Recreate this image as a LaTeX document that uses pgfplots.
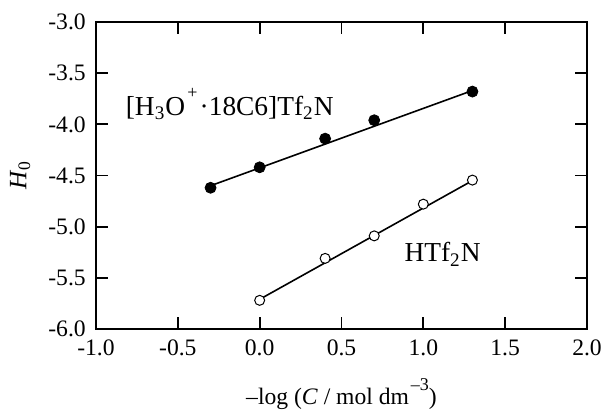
\documentclass[border=0pt]{standalone}
\usepackage{fontspec}
\setmainfont{Liberation Serif}
\usepackage{pgfplots}
\pgfplotsset{compat=1.18}

\newcommand{\hisup}[1]{\hspace{0.08em}\raisebox{0.62em}[0pt][0pt]{\fontsize{9pt}{9pt}\selectfont #1}}

\begin{document}
\fontsize{11.8pt}{14pt}\selectfont
\begin{tikzpicture}
\begin{axis}[
  name=ax,
  scale only axis,
  width=245.5pt, height=153.5pt,
  xmin=-1, xmax=2, ymin=-6, ymax=-3,
  xtick={-1,-0.5,0,0.5,1,1.5,2},
  ytick={-6,-5.5,-5,-4.5,-4,-3.5,-3},
  tick align=inside,
  major tick length=6pt,
  axis line style={line width=0.9pt},
  every tick/.style={black, line width=0.9pt},
  tick label style={font=\fontsize{11.8pt}{14pt}\selectfont},
  /pgf/number format/assume math mode=true,
  /pgf/number format/fixed,
  /pgf/number format/fixed zerofill,
  /pgf/number format/precision=1,
  xticklabel style={yshift=-1.5pt},
  yticklabel style={xshift=-1pt},
  xlabel={\textendash log (\textit{C} / mol dm\hisup{\textendash3})},
  ylabel={\textit{H}\textsubscript{0}},
  xlabel style={font=\fontsize{11.8pt}{14pt}\selectfont, yshift=-8pt},
  ylabel style={font=\fontsize{12.5pt}{14pt}\selectfont, yshift=1pt},
  clip=false,
]
% [H3O+.18C6]Tf2N
\addplot[black, line width=0.8pt] coordinates {(-0.3,-4.60) (1.3,-3.67)};
\addplot[only marks, mark=*, mark size=2.75pt, black] coordinates {
  (-0.3,-4.62) (0,-4.42) (0.4,-4.14) (0.7,-3.96) (1.3,-3.68)
};
% HTf2N
\addplot[black, line width=0.8pt] coordinates {(0,-5.71) (1.3,-4.55)};
\addplot[only marks, mark=*, mark size=2.5pt,
  mark options={fill=white, draw=black, line width=0.5pt}] coordinates {
  (0,-5.72) (0.4,-5.31) (0.7,-5.09) (1.0,-4.78) (1.3,-4.545)
};
\node[anchor=base west, inner sep=0pt, font=\fontsize{13.7pt}{16pt}\selectfont]
  at (axis cs:-0.82,-3.91)
  {[H\textsubscript{3}O\hisup{+}\hspace{0.08em}·18C6]Tf\textsubscript{2}N};
\node[anchor=base west, inner sep=0pt, font=\fontsize{13.7pt}{16pt}\selectfont]
  at (axis cs:0.883,-5.343) {HTf\textsubscript{2}N};
\end{axis}
\pgfresetboundingbox
\path ([xshift=-48pt,yshift=-40.5pt]ax.south west) rectangle ([xshift=9pt,yshift=11pt]ax.north east);
\end{tikzpicture}
\end{document}
